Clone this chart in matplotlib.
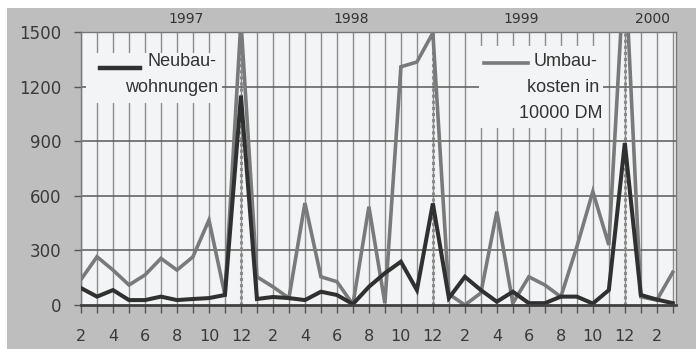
import matplotlib.pyplot as plt
from matplotlib.patches import Rectangle

# monthly values, Feb 1997 .. Mar 2000
neubau = [93, 46, 82, 27, 27, 46, 27, 33, 38, 55, 1150, 33, 44, 38, 27, 73, 55, 5,
          100, 175, 238, 82, 558, 38, 155, 82, 18, 73, 10, 10, 46, 46, 8, 82, 890, 55, 30, 10]
umbau = [140, 265, 192, 110, 165, 256, 192, 265, 467, 55, 1560, 155, 100, 38, 560, 155, 128, 3,
         540, 10, 1309, 1335, 1495, 60, 0, 66, 513, 10, 155, 110, 45, 320, 623, 330, 1900, 45, 27, 180]
month_labels = ["2", "4", "6", "8", "10", "12"] * 3 + ["2"]
years = ["1997", "1998", "1999", "2000"]
year_pos = [6.6, 16.9, 27.5, 35.7]
year_ends = [10, 22, 34]
yticks = [0, 300, 600, 900, 1200, 1500]

x = list(range(len(neubau)))

fig = plt.figure(figsize=(6.96, 3.49), dpi=100, facecolor="white")
bg = fig.add_axes([7 / 696, 0, 1 - 7 / 696, 1 - 8 / 349])
bg.set_facecolor("#bebebe")
bg.set_xticks([])
bg.set_yticks([])
for s in bg.spines.values():
    s.set_visible(False)
bg.set_zorder(0)

ax = fig.add_axes([81 / 696, 44 / 349, 595 / 696, 273 / 349])
ax.set_zorder(1)
ax.set_facecolor("#f3f4f6")

ax.set_xlim(0, 37.2)
ax.set_ylim(0, 1500)

# grid
for xi in x:
    ax.axvline(xi, color="#8c8c8c", lw=1.0, zorder=1)
for yv in yticks[1:-1]:
    ax.axhline(yv, color="#5a5a5a", lw=1.1, zorder=1)
for xe in year_ends:
    ax.axvline(xe, color="#8a8a8a", lw=2.2, ls=(0, (1, 1)), zorder=1.5)

ax.plot(x, umbau, color="#7a7a7a", lw=2.6, zorder=3, solid_joinstyle="miter")
ax.plot(x, neubau, color="#303030", lw=2.9, zorder=4, solid_joinstyle="miter")

# legend boxes
def px(xp):
    return (xp - 81) / 595

def py(yp):
    return (305 - yp) / 273

ax.add_patch(Rectangle((px(86), py(103)), px(222) - px(86), py(53) - py(103),
                       transform=ax.transAxes, facecolor="#f3f4f6", edgecolor="none", zorder=2))
ax.add_patch(Rectangle((px(479), py(128)), px(603) - px(479), py(46) - py(128),
                       transform=ax.transAxes, facecolor="#f3f4f6", edgecolor="none", zorder=2))
ax.plot([px(100), px(140)], [py(68), py(68)], transform=ax.transAxes, color="#303030", lw=3.2, zorder=5)
ax.plot([px(484), px(528)], [py(63), py(63)], transform=ax.transAxes, color="#7a7a7a", lw=2.6, zorder=5)

lfont = dict(family="Liberation Sans", fontsize=13, color="#333333", ha="right", va="center",
             transform=ax.transAxes, zorder=6)
ax.text(px(216), py(62), "Neubau-", **lfont)
ax.text(px(218), py(88), "wohnungen", **lfont)
ax.text(px(597), py(62), "Umbau-", **lfont)
ax.text(px(599), py(88), "kosten in", **lfont)
ax.text(px(602), py(114), "10000 DM", **lfont)

for yr, xp in zip(years, year_pos):
    ax.text(xp, 1.046, yr, transform=ax.get_xaxis_transform(), ha="center", va="center",
            family="DejaVu Sans", fontsize=10, color="#333333")

ax.set_xticks(x)
ax.set_xticklabels([month_labels[i // 2] if i % 2 == 0 else "" for i in x])
ax.set_yticks(yticks)
ax.tick_params(axis="x", length=6, width=1, color="#555555", pad=11, labelsize=11.5,
               labelcolor="#3a3a3a")
ax.tick_params(axis="y", length=5, width=1, color="#555555", pad=9, labelsize=12,
               labelcolor="#3a3a3a")

for s in ["top", "right", "left"]:
    ax.spines[s].set_color("#777777")
    ax.spines[s].set_linewidth(1)
ax.spines["left"].set_linestyle((0, (1, 1)))
ax.spines["right"].set_linestyle((0, (1, 1)))
ax.spines["bottom"].set_color("#404040")
ax.spines["bottom"].set_linewidth(2)
ax.spines["bottom"].set_zorder(5)

fig.savefig("out.png", dpi=100)
